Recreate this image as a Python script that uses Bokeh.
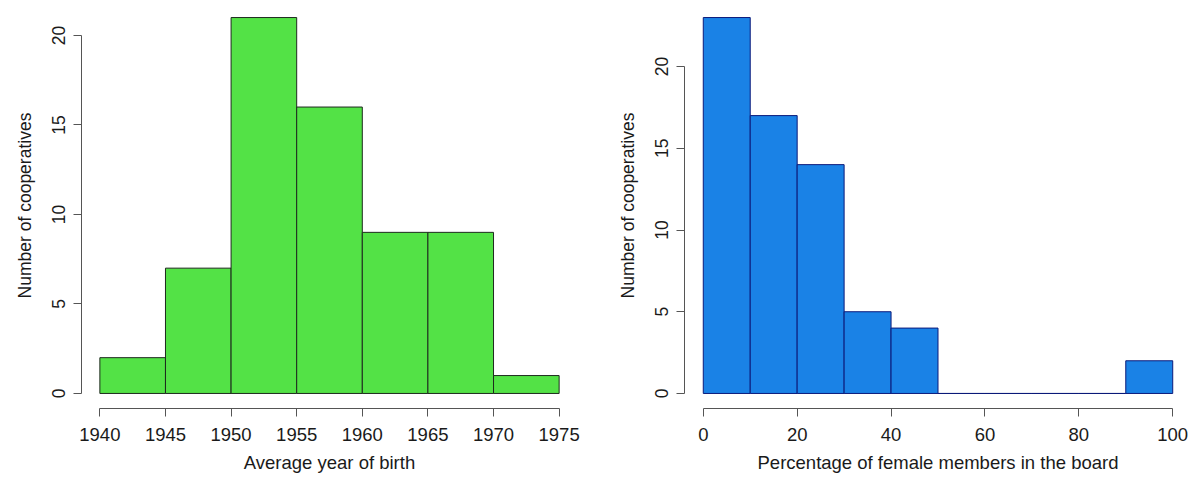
from bokeh.plotting import figure
from bokeh.models import Range1d, FixedTicker
from bokeh.layouts import row
from bokeh.embed import file_html
from bokeh.resources import INLINE

# ---- data ----
year_edges = [1940, 1945, 1950, 1955, 1960, 1965, 1970, 1975]
year_counts = [2, 7, 21, 16, 9, 9, 1]
year_ticks = [1940, 1945, 1950, 1955, 1960, 1965, 1970, 1975]

pct_edges = [0, 10, 20, 30, 40, 50, 60, 70, 80, 90, 100]
pct_counts = [23, 17, 14, 5, 4, 0, 0, 0, 0, 2]
pct_ticks = [0, 20, 40, 60, 80, 100]

count_ticks = [0, 5, 10, 15, 20]

FONT = "Liberation Sans"
AXIS_COL = "#555555"
TEXT_COL = "#1a1a1a"


def r_range(lo, hi):
    d = (hi - lo) * 0.04
    return Range1d(lo - d, hi + d)


def make_hist(edges, counts, xticks, xlabel, fill, line, width,
              b_left, b_right, b_top, b_bottom):
    p = figure(width=width, height=478, output_backend="svg", toolbar_location=None,
               x_range=r_range(edges[0], edges[-1]), y_range=r_range(0, max(counts)),
               min_border_left=b_left, min_border_right=b_right,
               min_border_top=b_top, min_border_bottom=b_bottom)
    p.quad(left=edges[:-1], right=edges[1:], bottom=0, top=counts,
           fill_color=fill, line_color=line, line_width=1)
    p.outline_line_color = None
    p.grid.grid_line_color = None
    p.background_fill_color = "white"
    p.border_fill_color = "white"

    for ax, ticks, fs in ((p.xaxis[0], xticks, "18.5px"), (p.yaxis[0], count_ticks, "17.5px")):
        ax.ticker = FixedTicker(ticks=ticks)
        ax.bounds = (ticks[0], ticks[-1])
        ax.axis_line_color = AXIS_COL
        ax.major_tick_line_color = AXIS_COL
        ax.minor_tick_line_color = None
        ax.major_tick_out = 8
        ax.major_tick_in = 0
        ax.major_label_text_font = FONT
        ax.major_label_text_font_size = fs
        ax.major_label_text_color = TEXT_COL
        ax.axis_label_text_font = FONT
        ax.axis_label_text_font_size = fs
        ax.axis_label_text_font_style = "normal"
        ax.axis_label_text_color = TEXT_COL

    p.xaxis[0].axis_label = xlabel
    p.xaxis[0].major_label_standoff = 11
    p.xaxis[0].axis_label_standoff = 8
    p.yaxis[0].axis_label = "Number of cooperatives"
    p.yaxis[0].major_label_orientation = "vertical"
    p.yaxis[0].major_label_standoff = 8
    p.yaxis[0].axis_label_standoff = 15
    return p


p1 = make_hist(year_edges, year_counts, year_ticks, "Average year of birth",
               "#53E246", "#1e2a1e", 595, 81, 18, 2, 70)
p2 = make_hist(pct_edges, pct_counts, pct_ticks, "Percentage of female members in the board",
               "#1A82E6", "#0b1a7a", 596, 89, 0, 1, 67)

layout = row(p1, p2)
open("out.html", "w").write(file_html(layout, INLINE))
